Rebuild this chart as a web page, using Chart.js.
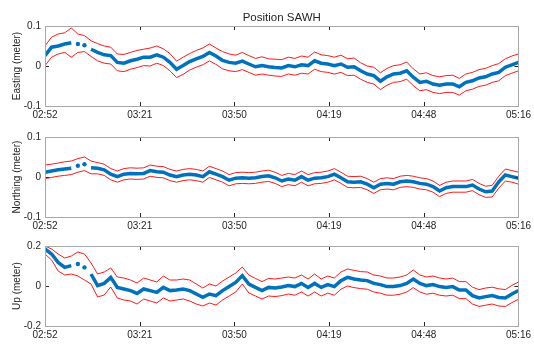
<!DOCTYPE html>
<html>
<head>
<meta charset="utf-8">
<script src="https://cdn.jsdelivr.net/npm/chart.js@4/dist/chart.umd.min.js"></script>
<style>
  body { margin: 0; background: #fff; }
  #wrap { position: relative; width: 534px; height: 345px; }
  canvas { position: absolute; left: 0; }
</style>
</head>
<body>
<div id="wrap">
  <canvas id="east" width="534" height="122" style="top:0px"></canvas>
  <canvas id="north" width="534" height="111" style="top:122px"></canvas>
  <canvas id="up" width="534" height="109" style="top:233px"></canvas>
</div>
<script>
// minutes after 02:52
const minutes = [0,2,4,6,8,10,12,14,16,18,20,22,24,26,28,30,32,34,36,38,40,42,44,46,48,50,52,54,56,58,60,62,64,66,68,70,72,74,76,78,80,82,84,86,88,90,92,94,96,98,100,102,104,106,108,110,112,114,116,118,120,122,124,126,128,130,132,134,136,138,140,142,144];
const tickMinutes = [0, 28.8, 57.6, 86.4, 115.2, 144];
const tickLabels = ['02:52', '03:21', '03:50', '04:19', '04:48', '05:16'];

const easting = [
  0.026,0.047,0.05,0.055,0.058,0.055,0.052,0.042,0.034,0.028,
  0.026,0.009,0.007,0.013,0.017,0.022,0.022,0.028,0.022,0.009,
  -0.008,0.001,0.011,0.018,0.024,0.034,0.025,0.014,0.009,0.007,
  0.012,0.005,-0.002,0.001,-0.002,-0.004,-0.005,0.001,-0.002,0.003,
  0.001,0.013,0.007,0.005,0.001,0.005,-0.003,-0.002,-0.012,-0.02,
  -0.024,-0.038,-0.027,-0.02,-0.018,-0.012,-0.028,-0.041,-0.038,-0.045,
  -0.048,-0.045,-0.045,-0.052,-0.041,-0.037,-0.03,-0.027,-0.02,-0.016,
  -0.003,0.003,0.009];
const eastingHi = [
  0.05,0.072,0.08,0.083,0.095,0.08,0.076,0.063,0.056,0.05,
  0.047,0.03,0.029,0.034,0.039,0.042,0.045,0.05,0.043,0.031,
  0.012,0.022,0.031,0.039,0.045,0.055,0.045,0.036,0.03,0.027,
  0.034,0.026,0.019,0.023,0.018,0.017,0.016,0.022,0.019,0.025,
  0.022,0.035,0.028,0.026,0.022,0.027,0.018,0.02,0.008,0.0,
  -0.003,-0.017,-0.006,0.001,0.003,0.01,-0.007,-0.02,-0.017,-0.024,
  -0.027,-0.024,-0.023,-0.031,-0.02,-0.016,-0.009,-0.006,0.001,0.006,
  0.018,0.025,0.03];
const eastingLo = [
  0.001,0.022,0.03,0.034,0.022,0.034,0.036,0.024,0.013,0.007,
  0.005,-0.012,-0.014,-0.008,-0.004,0.001,0.0,0.007,0.001,-0.012,
  -0.029,-0.021,-0.01,-0.003,0.003,0.013,0.004,-0.007,-0.012,-0.014,
  -0.009,-0.016,-0.023,-0.02,-0.023,-0.025,-0.026,-0.02,-0.023,-0.018,
  -0.02,-0.008,-0.014,-0.016,-0.02,-0.016,-0.024,-0.023,-0.033,-0.041,
  -0.045,-0.059,-0.048,-0.041,-0.039,-0.033,-0.049,-0.062,-0.059,-0.066,
  -0.069,-0.066,-0.066,-0.073,-0.062,-0.058,-0.051,-0.048,-0.041,-0.037,
  -0.024,-0.018,-0.012];

const northing = [
  0.012,0.015,0.018,0.02,0.022,0.028,0.032,0.023,0.022,0.018,
  0.007,0.001,0.007,0.009,0.008,0.009,0.016,0.013,0.012,0.005,
  0.001,0.005,0.007,0.005,0.001,0.013,0.007,0.001,-0.008,-0.003,
  -0.002,-0.003,-0.002,0.001,0.003,-0.002,-0.01,-0.005,-0.008,0.001,
  -0.008,-0.003,-0.002,0.001,0.007,-0.002,-0.012,-0.013,-0.012,-0.018,
  -0.027,-0.018,-0.016,-0.018,-0.012,-0.01,-0.012,-0.016,-0.018,-0.024,
  -0.035,-0.027,-0.024,-0.024,-0.024,-0.02,-0.03,-0.037,-0.035,-0.012,
  0.005,0.001,-0.003];
const northingHi = [
  0.03,0.032,0.035,0.038,0.04,0.046,0.05,0.04,0.036,0.032,
  0.021,0.015,0.021,0.023,0.022,0.023,0.03,0.027,0.026,0.019,
  0.015,0.019,0.021,0.019,0.015,0.027,0.021,0.015,0.006,0.011,
  0.012,0.011,0.012,0.015,0.017,0.012,0.004,0.009,0.006,0.015,
  0.006,0.011,0.012,0.015,0.021,0.012,0.002,0.001,0.002,-0.004,
  -0.013,-0.004,-0.002,-0.004,0.002,0.004,0.002,-0.002,-0.004,-0.01,
  -0.021,-0.013,-0.01,-0.01,-0.01,-0.006,-0.016,-0.023,-0.021,0.002,
  0.02,0.016,0.012];
const northingLo = [
  -0.004,-0.001,0.002,0.004,0.006,0.012,0.016,0.008,0.008,0.004,
  -0.007,-0.013,-0.007,-0.005,-0.006,-0.005,0.002,-0.001,-0.002,-0.009,
  -0.013,-0.009,-0.007,-0.009,-0.013,-0.001,-0.007,-0.013,-0.022,-0.017,
  -0.016,-0.017,-0.016,-0.013,-0.011,-0.016,-0.024,-0.019,-0.022,-0.013,
  -0.022,-0.017,-0.016,-0.013,-0.007,-0.016,-0.026,-0.027,-0.026,-0.032,
  -0.041,-0.032,-0.03,-0.032,-0.026,-0.024,-0.026,-0.03,-0.032,-0.038,
  -0.049,-0.041,-0.038,-0.038,-0.038,-0.034,-0.044,-0.051,-0.05,-0.028,
  -0.01,-0.013,-0.018];

const upv = [
  0.185,0.16,0.118,0.093,0.102,0.11,0.093,0.06,0.002,0.013,
  0.043,-0.007,-0.015,-0.023,-0.037,-0.015,-0.023,-0.032,-0.007,-0.023,
  -0.02,-0.015,-0.023,-0.04,-0.057,-0.04,-0.048,-0.023,-0.003,0.018,
  0.052,0.01,-0.007,-0.023,-0.007,-0.01,-0.005,0.002,-0.003,0.013,
  -0.007,0.013,-0.007,0.007,-0.003,0.027,0.043,0.035,0.03,0.027,
  0.013,0.007,-0.003,-0.003,0.002,0.013,0.035,0.013,0.002,0.007,
  -0.003,-0.007,-0.003,-0.02,-0.02,-0.048,-0.06,-0.053,-0.048,-0.057,
  -0.06,-0.04,-0.023];
const upHi = [
  0.2,0.185,0.16,0.14,0.15,0.17,0.16,0.115,0.06,0.07,
  0.09,0.045,0.04,0.03,0.015,0.04,0.03,0.02,0.05,0.03,
  0.03,0.035,0.03,0.01,-0.01,0.01,0.0,0.025,0.045,0.065,
  0.095,0.055,0.038,0.022,0.038,0.035,0.04,0.045,0.04,0.055,
  0.035,0.06,0.035,0.05,0.04,0.07,0.085,0.078,0.072,0.07,
  0.055,0.05,0.04,0.04,0.045,0.055,0.08,0.055,0.045,0.05,
  0.04,0.035,0.04,0.022,0.022,-0.006,-0.018,-0.01,-0.006,-0.014,
  -0.018,0.003,0.02];
const upLo = [
  0.16,0.13,0.075,0.055,0.06,0.05,0.03,0.01,-0.055,-0.045,
  -0.005,-0.06,-0.07,-0.075,-0.09,-0.065,-0.075,-0.085,-0.06,-0.075,
  -0.07,-0.065,-0.075,-0.09,-0.1,-0.085,-0.095,-0.07,-0.05,-0.03,
  0.01,-0.035,-0.05,-0.065,-0.05,-0.053,-0.048,-0.04,-0.046,-0.03,
  -0.05,-0.03,-0.05,-0.036,-0.046,-0.016,0.0,-0.008,-0.013,-0.016,
  -0.03,-0.036,-0.046,-0.046,-0.041,-0.03,-0.008,-0.03,-0.041,-0.036,
  -0.046,-0.05,-0.046,-0.063,-0.063,-0.09,-0.102,-0.096,-0.09,-0.1,
  -0.102,-0.083,-0.066];

// blue line is broken for a few samples near the start
const gapSegments = [4, 5, 6];
const isolatedPoints = [5, 6];

const BLUE = '#0072BD';
const RED = 'rgba(255, 0, 0, 0.9)';
const TEXT = '#262626';
const FONT = '"Liberation Sans", Arial, Helvetica, sans-serif';

// MATLAB-ish box with inward tick marks
const boxPlugin = {
    id: 'matlabBox',
    afterDatasetsDraw(chart) {
        const { ctx, chartArea: a, scales } = chart;
        ctx.save();
        ctx.strokeStyle = '#262626';
        ctx.lineWidth = 1;
        ctx.beginPath();
        scales.x.ticks.forEach(t => {
            const px = Math.round(scales.x.getPixelForValue(t.value)) + 0.5;
            ctx.moveTo(px, a.top); ctx.lineTo(px, a.top + 4);
            ctx.moveTo(px, a.bottom); ctx.lineTo(px, a.bottom - 4);
        });
        scales.y.ticks.forEach(t => {
            const py = Math.round(scales.y.getPixelForValue(t.value)) + 0.5;
            ctx.moveTo(a.left, py); ctx.lineTo(a.left + 4, py);
            ctx.moveTo(a.right, py); ctx.lineTo(a.right - 4, py);
        });
        ctx.stroke();
        ctx.strokeStyle = '#a8a8a8';
        ctx.strokeRect(Math.round(a.left) + 0.5, Math.round(a.top) + 0.5,
            Math.round(a.right - a.left), Math.round(a.bottom - a.top));
        ctx.restore();
    }
};

const titlePlugin = {
    id: 'topTitle',
    afterDraw(chart) {
        if (!chart.options.plugins.topTitle) return;
        const { ctx, chartArea: a } = chart;
        ctx.save();
        ctx.font = '11.5px ' + FONT;
        ctx.fillStyle = TEXT;
        ctx.textAlign = 'center';
        ctx.textBaseline = 'middle';
        ctx.fillText(chart.options.plugins.topTitle, (a.left + a.right) / 2, 18);
        ctx.restore();
    }
};

function makePanel(id, label, mid, hi, lo, yMax, topPad) {
    const pts = arr => minutes.map((m, i) => ({ x: m, y: arr[i] }));
    return new Chart(document.getElementById(id), {
        type: 'line',
        data: {
            datasets: [
                { data: pts(hi), borderColor: RED, borderWidth: 1, pointRadius: 0, tension: 0 },
                { data: pts(lo), borderColor: RED, borderWidth: 1, pointRadius: 0, tension: 0 },
                {
                    data: pts(mid),
                    borderColor: BLUE,
                    backgroundColor: BLUE,
                    borderWidth: 3.5,
                    tension: 0,
                    pointRadius: c => isolatedPoints.includes(c.dataIndex) ? 2.2 : 0,
                    pointBorderWidth: 0,
                    segment: {
                        borderColor: c => gapSegments.includes(c.p0DataIndex) ? 'transparent' : BLUE
                    }
                }
            ]
        },
        options: {
            responsive: false,
            animation: false,
            events: [],
            layout: { padding: { top: topPad, right: 14, left: 11, bottom: 0 } },
            plugins: {
                legend: { display: false },
                tooltip: { enabled: false },
                topTitle: id === 'east' ? 'Position SAWH' : null
            },
            scales: {
                x: {
                    type: 'linear',
                    min: 0,
                    max: 144,
                    grid: { display: false, drawTicks: false },
                    border: { display: false },
                    afterBuildTicks: s => { s.ticks = tickMinutes.map(v => ({ value: v })); },
                    afterFit: s => { s.height = 16; },
                    ticks: {
                        autoSkip: false,
                        maxRotation: 0,
                        padding: 3,
                        color: TEXT,
                        font: { size: 10, family: FONT },
                        callback: (v, i) => tickLabels[i]
                    }
                },
                y: {
                    min: -yMax,
                    max: yMax,
                    grid: { display: false, drawTicks: false },
                    border: { display: false },
                    afterFit: s => { s.width = 34; },
                    ticks: {
                        stepSize: yMax,
                        padding: 4,
                        color: TEXT,
                        font: { size: 10, family: FONT }
                    },
                    title: {
                        display: true,
                        text: label,
                        color: TEXT,
                        padding: 0,
                        font: { size: 10, family: FONT }
                    }
                }
            }
        },
        plugins: [boxPlugin, titlePlugin]
    });
}

makePanel('east', 'Easting (meter)', easting, eastingHi, eastingLo, 0.1, 26);
makePanel('north', 'Northing (meter)', northing, northingHi, northingLo, 0.1, 15);
makePanel('up', 'Up (meter)', upv, upHi, upLo, 0.2, 13);
</script>
</body>
</html>
